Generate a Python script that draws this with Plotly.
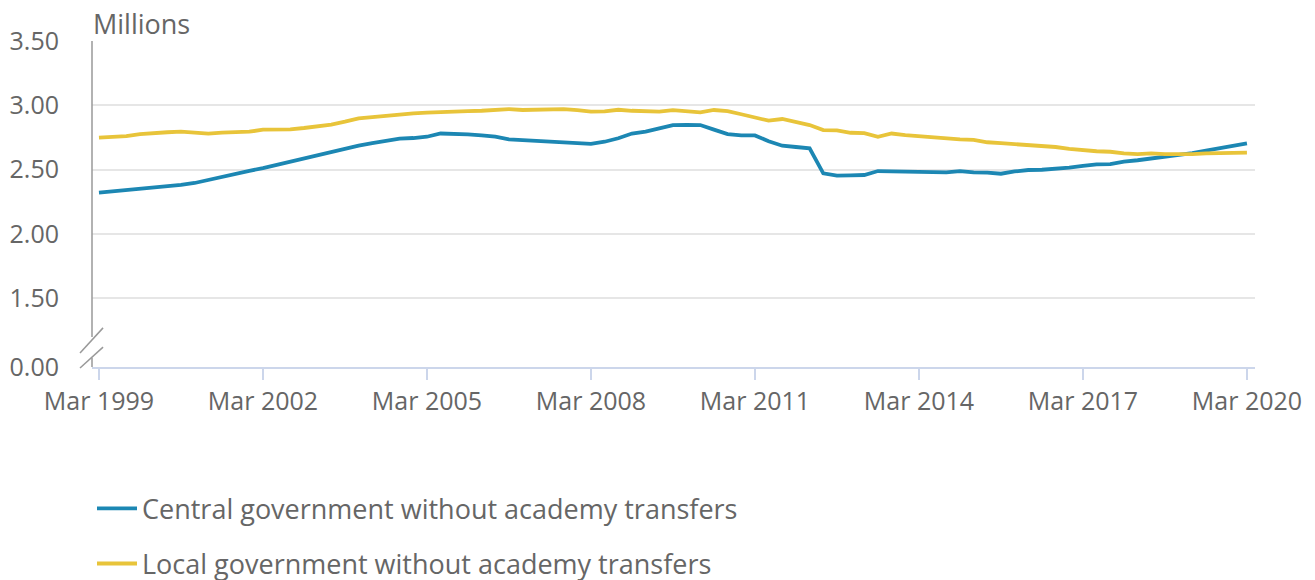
import plotly.graph_objects as go

# ---- Data (millions), quarterly Mar 1999 .. Mar 2020 ----
months = ["Mar", "Jun", "Sep", "Dec"]
quarters = [f"{months[i % 4]} {1999 + i // 4}" for i in range(85)]

central = [
    2.32, 2.33, 2.34, 2.35, 2.355, 2.37, 2.38, 2.395, 2.42, 2.445, 2.465, 2.49,
    2.51, 2.535, 2.56, 2.59, 2.615, 2.64, 2.665, 2.685, 2.705, 2.725, 2.74, 2.745,
    2.755, 2.78, 2.778, 2.774, 2.765, 2.755, 2.735, 2.73, 2.724, 2.716, 2.709, 2.703,
    2.70, 2.716, 2.743, 2.78, 2.794, 2.82, 2.845, 2.848, 2.846, 2.81, 2.775, 2.765,
    2.765, 2.72, 2.685, 2.675, 2.665, 2.47, 2.452, 2.455, 2.457, 2.488, 2.485, 2.485,
    2.485, 2.483, 2.478, 2.488, 2.477, 2.475, 2.467, 2.485, 2.496, 2.498, 2.504, 2.514,
    2.528, 2.54, 2.542, 2.562, 2.572, 2.585, 2.598, 2.615, 2.628, 2.647, 2.665, 2.683,
    2.704,
]

local = [
    2.748, 2.753, 2.76, 2.775, 2.786, 2.79, 2.794, 2.787, 2.779, 2.787, 2.79, 2.794,
    2.81, 2.812, 2.813, 2.823, 2.833, 2.85, 2.872, 2.898, 2.908, 2.918, 2.93, 2.937,
    2.942, 2.947, 2.955, 2.955, 2.957, 2.965, 2.97, 2.963, 2.967, 2.97, 2.97, 2.962,
    2.95, 2.952, 2.965, 2.957, 2.955, 2.95, 2.962, 2.955, 2.945, 2.963, 2.955, 2.93,
    2.905, 2.88, 2.893, 2.87, 2.846, 2.807, 2.805, 2.786, 2.783, 2.755, 2.78, 2.768,
    2.758, 2.75, 2.742, 2.735, 2.73, 2.712, 2.705, 2.698, 2.688, 2.677, 2.675, 2.66,
    2.648, 2.642, 2.638, 2.625, 2.62, 2.626, 2.62, 2.618, 2.62, 2.626, 2.629, 2.631,
    2.632,
]

x_tick_labels = ["Mar 1999", "Mar 2002", "Mar 2005", "Mar 2008",
                 "Mar 2011", "Mar 2014", "Mar 2017", "Mar 2020"]
y_tick_values = [0.0, 1.5, 2.0, 2.5, 3.0, 3.5]
y_tick_labels = ["0.00", "1.50", "2.00", "2.50", "3.00", "3.50"]

# broken axis: 0.00 is drawn just below 1.50
ZERO_POS = 0.963
y_tick_pos = [ZERO_POS if v == 0 else v for v in y_tick_values]

BLUE = "#1c87b3"
YELLOW = "#e8c43a"
TEXT = "#666666"
FONT = "Open Sans"

fig = go.Figure()
fig.add_trace(go.Scatter(x=quarters, y=central, mode="lines",
                         name="Central government without academy transfers",
                         line=dict(color=BLUE, width=3.8), legendgroup="a"))
fig.add_trace(go.Scatter(x=quarters, y=local, mode="lines",
                         name="Local government without academy transfers",
                         line=dict(color=YELLOW, width=3.8), legendgroup="b"))

# page body has an 8px margin, so the figure is sized to fit inside the window
fig.update_layout(
    width=1307, height=572, autosize=False,
    margin=dict(l=84, r=60, t=33, b=213, autoexpand=False),
    paper_bgcolor="white", plot_bgcolor="white",
    font=dict(family=FONT, size=25, color=TEXT),
    showlegend=True,
    legend=dict(orientation="v", x=0, xanchor="left", y=-0.36, yanchor="top",
                font=dict(size=27, color=TEXT), tracegroupgap=17,
                itemwidth=40),
    annotations=[dict(text="Millions", xref="paper", yref="paper", x=0.0, y=1.0,
                      xanchor="left", yanchor="bottom", showarrow=False,
                      font=dict(size=27, color=TEXT), xshift=-1, yshift=-3)],
)

fig.update_xaxes(
    type="category", range=[-0.51, 84.59], automargin=False,
    tickmode="array", tickvals=x_tick_labels, ticktext=x_tick_labels,
    showgrid=False, zeroline=False,
    showline=True, linecolor="#ccd6eb", linewidth=1.5,
    ticks="outside", ticklen=11, tickcolor="#ccd6eb", tickwidth=1.5,
    tickfont=dict(size=25, color=TEXT),
)
fig.update_yaxes(
    range=[ZERO_POS, 3.5], automargin=False,
    tickmode="array", tickvals=y_tick_pos, ticktext=y_tick_labels,
    showgrid=True, gridcolor="#e6e6e6", gridwidth=1.5,
    zeroline=False, showline=False,
    ticks="", ticklabelstandoff=32,
    tickfont=dict(size=25, color=TEXT),
)

# y-axis line with break marks
AX = "#999999"
shapes = [
    dict(type="line", xref="paper", yref="paper", x0=0, x1=0, y0=0.092, y1=1.0,
         line=dict(color=AX, width=1.5)),
    dict(type="line", xref="paper", yref="paper", x0=0, x1=0, y0=0.0, y1=0.028,
         line=dict(color=AX, width=1.5)),
    dict(type="line", xref="paper", yref="paper", x0=-0.0103, x1=0.0095, y0=0.043, y1=0.12,
         line=dict(color=AX, width=1.5)),
    dict(type="line", xref="paper", yref="paper", x0=-0.0103, x1=0.0095, y0=-0.003, y1=0.061,
         line=dict(color=AX, width=1.5)),
]
fig.update_layout(shapes=shapes)

fig.write_html("out.html")
